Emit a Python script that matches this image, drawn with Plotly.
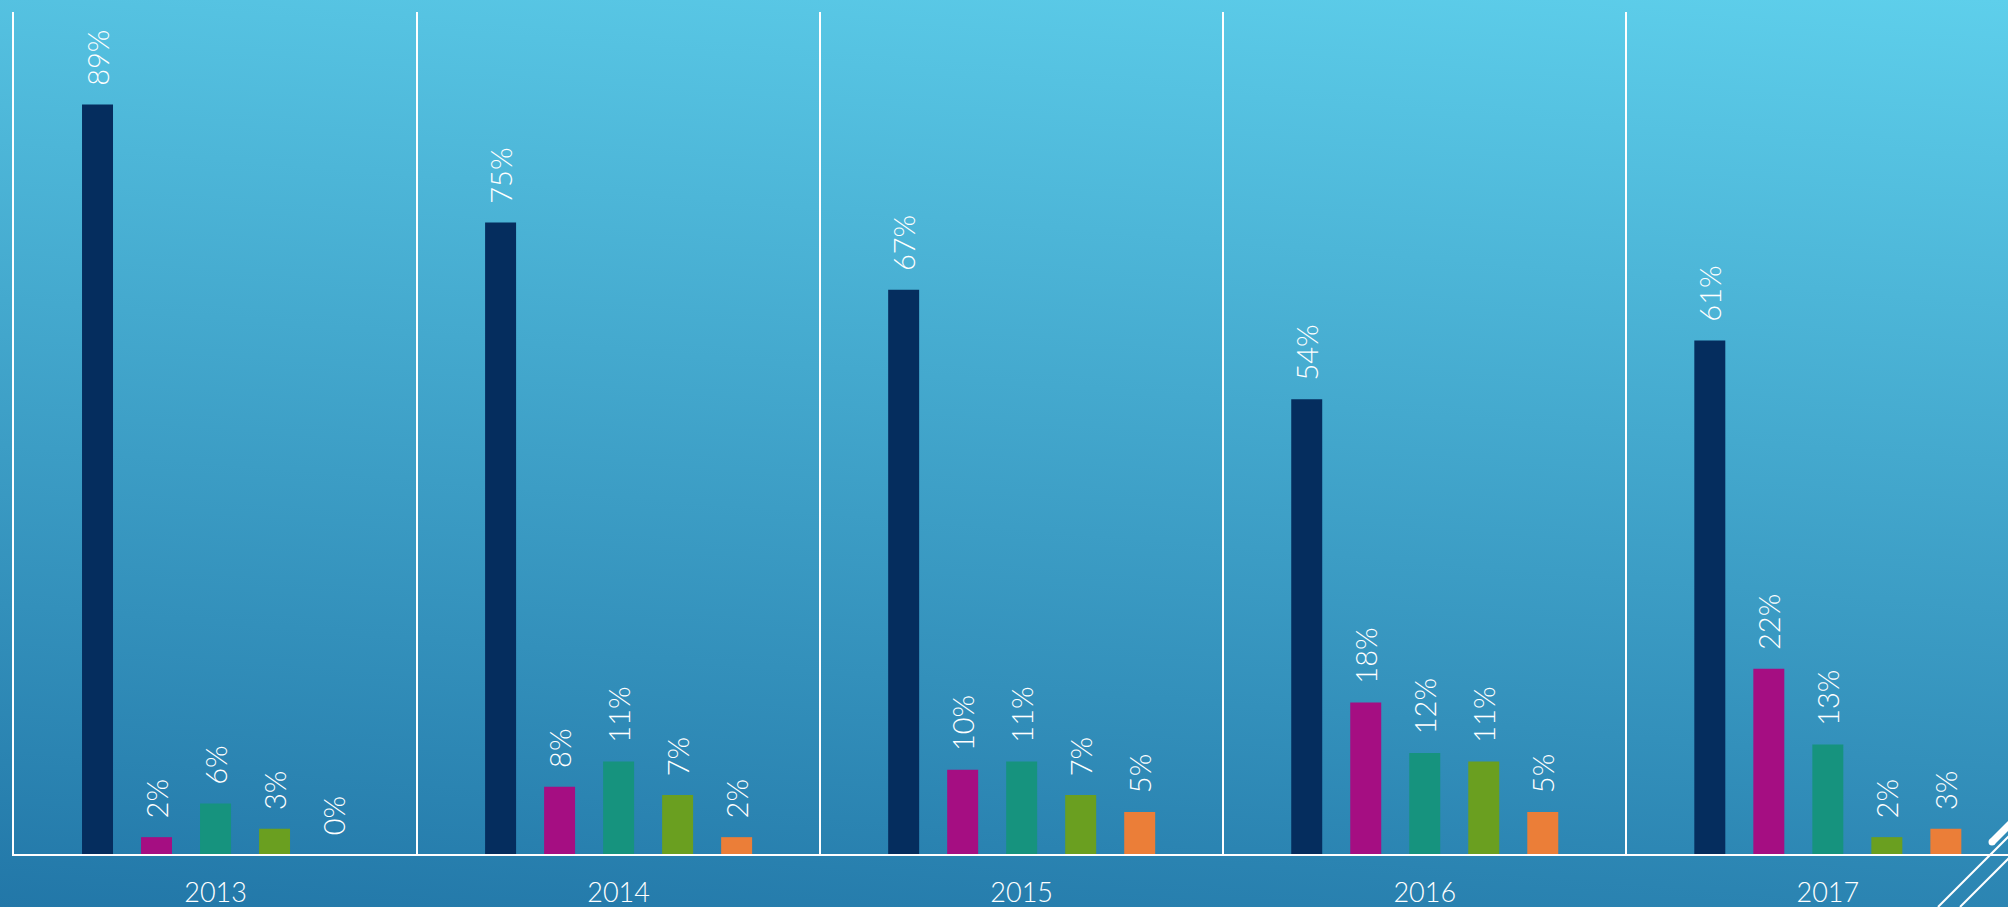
import base64
import plotly.graph_objects as go

# Datos
years = ["2013", "2014", "2015", "2016", "2017"]
serie_1 = [89, 75, 67, 54, 61]
serie_2 = [2, 8, 10, 18, 22]
serie_3 = [6, 11, 11, 12, 13]
serie_4 = [3, 7, 7, 11, 2]
serie_5 = [0, 2, 5, 5, 3]

series_names = ["Serie 1", "Serie 2", "Serie 3", "Serie 4", "Serie 5"]
series_colors = ["#052D5E", "#A50E82", "#16937E", "#6A9F20", "#EB7E38"]

W, H = 2008, 907
L, R, T, B = 14, 0, 12, 53
FONT = "Century Gothic, Lato, sans-serif"

# fondo degradado (tema de diapositiva)
svg = (
    f'<svg xmlns="http://www.w3.org/2000/svg" width="{W}" height="{H}" viewBox="0 0 {W} {H}" preserveAspectRatio="none">'
    '<defs><linearGradient id="g" gradientUnits="userSpaceOnUse" x1="2008" y1="0" x2="1921" y2="1065">'
    '<stop offset="0" stop-color="#5ECFEB"/><stop offset="1" stop-color="#2277A8"/>'
    '</linearGradient></defs>'
    f'<rect x="0" y="0" width="{W}" height="{H}" fill="url(#g)"/></svg>'
)
bg_uri = "data:image/svg+xml;base64," + base64.b64encode(svg.encode()).decode()

fig = go.Figure()
for name, vals, color in zip(series_names,
                             [serie_1, serie_2, serie_3, serie_4, serie_5],
                             series_colors):
    fig.add_trace(go.Bar(
        x=years, y=vals, name=name,
        marker=dict(color=color, line=dict(width=0)),
        text=[f"\u00a0\u00a0{v}%" for v in vals],
        textposition="outside", textangle=-90,
        constraintext="none", cliponaxis=False,
        outsidetextfont=dict(family=FONT, size=29, color="white", weight=300),
        hoverinfo="skip",
    ))

pw = W - L - R
ph = H - T - B
band = pw / 4.947

fig.update_layout(
    width=W, height=H,
    margin=dict(l=L, r=R, t=T, b=B, pad=0),
    paper_bgcolor="#3FA3CF", plot_bgcolor="rgba(0,0,0,0)",
    barmode="group", bargap=0.268, bargroupgap=0.475,
    showlegend=False,
    font=dict(family=FONT, color="white"),
    xaxis=dict(
        type="category", range=[-0.5, -0.5 + pw / band],
        tickson="boundaries", ticks="", showgrid=True,
        gridcolor="white", gridwidth=2,
        showline=True, linecolor="white", linewidth=2,
        tickfont=dict(family=FONT, size=27, color="white", weight=300),
        ticklabelstandoff=14,
    ),
    yaxis=dict(
        range=[0, 100], showticklabels=False, showgrid=False,
        zeroline=False, showline=True, linecolor="white", linewidth=2,
        ticks="",
    ),
    images=[dict(
        source=bg_uri, xref="paper", yref="paper",
        x=-L / pw, y=1 + T / ph, sizex=W / pw, sizey=H / ph,
        xanchor="left", yanchor="top", sizing="stretch", layer="below",
    )],
)

# líneas decorativas de la esquina inferior derecha
def px2paper(x, y):
    return (x - L) / pw, (H - B - y) / ph

deco = [((1938, 907), (2025, 820), 2),
        ((1960, 907), (2025, 842), 2),
        ((1992, 842), (2025, 809), 7)]
for (a, b, w) in deco:
    x0, y0 = px2paper(*a)
    x1, y1 = px2paper(*b)
    fig.add_shape(type="line", xref="paper", yref="paper",
                  x0=x0, y0=y0, x1=x1, y1=y1,
                  line=dict(color="white", width=w), layer="above")
cx, cy = px2paper(1992, 842)
fig.add_shape(type="circle", xref="paper", yref="paper",
              x0=cx - 3.5 / pw, x1=cx + 3.5 / pw, y0=cy - 3.5 / ph, y1=cy + 3.5 / ph,
              fillcolor="white", line=dict(width=0), layer="above")

# sin margen del body para que la figura ocupe toda la ventana
fig.write_html("out.html", config={"displayModeBar": False},
               post_script="document.body.style.margin='0';document.body.style.overflow='hidden';")
